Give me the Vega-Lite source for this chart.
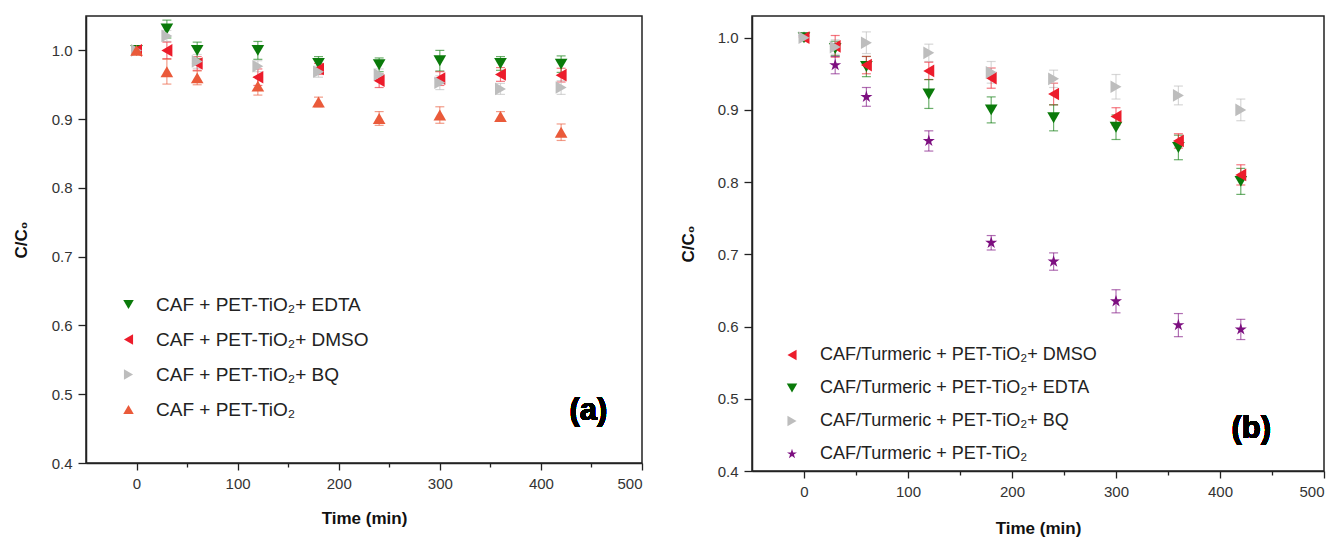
{
  "$schema": "https://vega.github.io/schema/vega-lite/v6.json",
  "background": "white",
  "padding": {"left": 11, "top": 15, "right": 5, "bottom": 5},
  "spacing": 34,
  "datasets": {
    "a": [
      {"series": "CAF + PET-TiO₂+ EDTA", "t": 0, "c": 1.0, "err": 0.004},
      {"series": "CAF + PET-TiO₂+ EDTA", "t": 30, "c": 1.031, "err": 0.013},
      {"series": "CAF + PET-TiO₂+ EDTA", "t": 60, "c": 1.0, "err": 0.012},
      {"series": "CAF + PET-TiO₂+ EDTA", "t": 120, "c": 1.0, "err": 0.013},
      {"series": "CAF + PET-TiO₂+ EDTA", "t": 180, "c": 0.981, "err": 0.01},
      {"series": "CAF + PET-TiO₂+ EDTA", "t": 240, "c": 0.979, "err": 0.01},
      {"series": "CAF + PET-TiO₂+ EDTA", "t": 300, "c": 0.985, "err": 0.015},
      {"series": "CAF + PET-TiO₂+ EDTA", "t": 360, "c": 0.981, "err": 0.01},
      {"series": "CAF + PET-TiO₂+ EDTA", "t": 420, "c": 0.98, "err": 0.012},
      {"series": "CAF + PET-TiO₂+ DMSO", "t": 0, "c": 1.0, "err": 0.004},
      {"series": "CAF + PET-TiO₂+ DMSO", "t": 30, "c": 1.0, "err": 0.012},
      {"series": "CAF + PET-TiO₂+ DMSO", "t": 60, "c": 0.981, "err": 0.01},
      {"series": "CAF + PET-TiO₂+ DMSO", "t": 120, "c": 0.961, "err": 0.012},
      {"series": "CAF + PET-TiO₂+ DMSO", "t": 180, "c": 0.973, "err": 0.008},
      {"series": "CAF + PET-TiO₂+ DMSO", "t": 240, "c": 0.956, "err": 0.01},
      {"series": "CAF + PET-TiO₂+ DMSO", "t": 300, "c": 0.959, "err": 0.01},
      {"series": "CAF + PET-TiO₂+ DMSO", "t": 360, "c": 0.965, "err": 0.01},
      {"series": "CAF + PET-TiO₂+ DMSO", "t": 420, "c": 0.964, "err": 0.01},
      {"series": "CAF + PET-TiO₂+ BQ", "t": 0, "c": 1.0, "err": 0.004},
      {"series": "CAF + PET-TiO₂+ BQ", "t": 30, "c": 1.021, "err": 0.008},
      {"series": "CAF + PET-TiO₂+ BQ", "t": 60, "c": 0.984, "err": 0.01},
      {"series": "CAF + PET-TiO₂+ BQ", "t": 120, "c": 0.977, "err": 0.008},
      {"series": "CAF + PET-TiO₂+ BQ", "t": 180, "c": 0.969, "err": 0.008},
      {"series": "CAF + PET-TiO₂+ BQ", "t": 240, "c": 0.965, "err": 0.008},
      {"series": "CAF + PET-TiO₂+ BQ", "t": 300, "c": 0.953, "err": 0.01},
      {"series": "CAF + PET-TiO₂+ BQ", "t": 360, "c": 0.944, "err": 0.008},
      {"series": "CAF + PET-TiO₂+ BQ", "t": 420, "c": 0.946, "err": 0.01},
      {"series": "CAF + PET-TiO₂", "t": 0, "c": 1.0, "err": 0.004},
      {"series": "CAF + PET-TiO₂", "t": 30, "c": 0.969, "err": 0.018},
      {"series": "CAF + PET-TiO₂", "t": 60, "c": 0.96, "err": 0.01},
      {"series": "CAF + PET-TiO₂", "t": 120, "c": 0.948, "err": 0.013},
      {"series": "CAF + PET-TiO₂", "t": 180, "c": 0.925, "err": 0.007},
      {"series": "CAF + PET-TiO₂", "t": 240, "c": 0.901, "err": 0.01},
      {"series": "CAF + PET-TiO₂", "t": 300, "c": 0.906, "err": 0.012},
      {"series": "CAF + PET-TiO₂", "t": 360, "c": 0.904, "err": 0.007},
      {"series": "CAF + PET-TiO₂", "t": 420, "c": 0.881, "err": 0.012}
    ],
    "b": [
      {"series": "CAF/Turmeric + PET-TiO₂", "t": 0, "c": 1.0, "err": 0.004},
      {"series": "CAF/Turmeric + PET-TiO₂", "t": 30, "c": 0.962, "err": 0.012},
      {"series": "CAF/Turmeric + PET-TiO₂", "t": 60, "c": 0.918, "err": 0.013},
      {"series": "CAF/Turmeric + PET-TiO₂", "t": 120, "c": 0.857, "err": 0.014},
      {"series": "CAF/Turmeric + PET-TiO₂", "t": 180, "c": 0.716, "err": 0.01},
      {"series": "CAF/Turmeric + PET-TiO₂", "t": 240, "c": 0.69, "err": 0.012},
      {"series": "CAF/Turmeric + PET-TiO₂", "t": 300, "c": 0.635, "err": 0.016},
      {"series": "CAF/Turmeric + PET-TiO₂", "t": 360, "c": 0.602, "err": 0.016},
      {"series": "CAF/Turmeric + PET-TiO₂", "t": 420, "c": 0.596, "err": 0.014},
      {"series": "CAF/Turmeric + PET-TiO₂+ EDTA", "t": 0, "c": 1.0, "err": 0.004},
      {"series": "CAF/Turmeric + PET-TiO₂+ EDTA", "t": 30, "c": 0.985, "err": 0.01},
      {"series": "CAF/Turmeric + PET-TiO₂+ EDTA", "t": 60, "c": 0.96, "err": 0.014},
      {"series": "CAF/Turmeric + PET-TiO₂+ EDTA", "t": 120, "c": 0.922, "err": 0.02},
      {"series": "CAF/Turmeric + PET-TiO₂+ EDTA", "t": 180, "c": 0.9, "err": 0.018},
      {"series": "CAF/Turmeric + PET-TiO₂+ EDTA", "t": 240, "c": 0.889, "err": 0.018},
      {"series": "CAF/Turmeric + PET-TiO₂+ EDTA", "t": 300, "c": 0.876, "err": 0.017},
      {"series": "CAF/Turmeric + PET-TiO₂+ EDTA", "t": 360, "c": 0.848, "err": 0.017},
      {"series": "CAF/Turmeric + PET-TiO₂+ EDTA", "t": 420, "c": 0.801, "err": 0.018},
      {"series": "CAF/Turmeric + PET-TiO₂+ DMSO", "t": 0, "c": 1.0, "err": 0.004},
      {"series": "CAF/Turmeric + PET-TiO₂+ DMSO", "t": 30, "c": 0.988, "err": 0.015},
      {"series": "CAF/Turmeric + PET-TiO₂+ DMSO", "t": 60, "c": 0.962, "err": 0.012},
      {"series": "CAF/Turmeric + PET-TiO₂+ DMSO", "t": 120, "c": 0.954, "err": 0.012},
      {"series": "CAF/Turmeric + PET-TiO₂+ DMSO", "t": 180, "c": 0.944, "err": 0.014},
      {"series": "CAF/Turmeric + PET-TiO₂+ DMSO", "t": 240, "c": 0.922, "err": 0.015},
      {"series": "CAF/Turmeric + PET-TiO₂+ DMSO", "t": 300, "c": 0.891, "err": 0.012},
      {"series": "CAF/Turmeric + PET-TiO₂+ DMSO", "t": 360, "c": 0.857, "err": 0.01},
      {"series": "CAF/Turmeric + PET-TiO₂+ DMSO", "t": 420, "c": 0.81, "err": 0.014},
      {"series": "CAF/Turmeric + PET-TiO₂+ BQ", "t": 0, "c": 1.0, "err": 0.004},
      {"series": "CAF/Turmeric + PET-TiO₂+ BQ", "t": 30, "c": 0.987, "err": 0.01},
      {"series": "CAF/Turmeric + PET-TiO₂+ BQ", "t": 60, "c": 0.993, "err": 0.015},
      {"series": "CAF/Turmeric + PET-TiO₂+ BQ", "t": 120, "c": 0.979, "err": 0.012},
      {"series": "CAF/Turmeric + PET-TiO₂+ BQ", "t": 180, "c": 0.952, "err": 0.015},
      {"series": "CAF/Turmeric + PET-TiO₂+ BQ", "t": 240, "c": 0.943, "err": 0.012},
      {"series": "CAF/Turmeric + PET-TiO₂+ BQ", "t": 300, "c": 0.932, "err": 0.017},
      {"series": "CAF/Turmeric + PET-TiO₂+ BQ", "t": 360, "c": 0.92, "err": 0.013},
      {"series": "CAF/Turmeric + PET-TiO₂+ BQ", "t": 420, "c": 0.9, "err": 0.015}
    ]
  },
  "resolve": {
    "scale": {"color": "independent", "shape": "independent", "y": "independent"},
    "legend": {"color": "independent", "shape": "independent"}
  },
  "hconcat": [
    {
      "width": 556,
      "height": 447,
      "data": {"name": "a"},
      "layer": [
        {
          "mark": {"type": "errorbar", "ticks": {"size": 9}, "opacity": 0.6, "thickness": 1.2},
          "encoding": {
            "x": {"field": "t", "type": "quantitative", "title": "Time (min)"},
            "y": {"field": "c", "type": "quantitative", "title": "C/C₀"},
            "yError": {"field": "err"},
            "color": {"field": "series", "type": "nominal",
              "legend": {"title": null, "orient": "none", "legendX": 33, "legendY": 279, "labelFontSize": 19, "rowPadding": 15, "labelOffset": 18, "symbolOpacity": 1}}
          }
        },
        {
          "mark": {"type": "point", "filled": true, "opacity": 1, "size": 160},
          "encoding": {
            "x": {"field": "t", "type": "quantitative", "title": "Time (min)",
              "scale": {"domain": [-50, 500], "nice": false, "zero": false},
              "axis": {"values": [0, 50, 100, 150, 200, 250, 300, 350, 400, 450, 500],
                "labelExpr": "datum.value % 100 === 0 ? datum.label : ''",
                "tickSize": {"condition": {"test": "datum.value % 100 !== 0", "value": 4}, "value": 7},
                "labelPadding": 6, "titlePadding": 19}},
            "y": {"field": "c", "type": "quantitative", "title": "C/C₀",
              "scale": {"domain": [0.4, 1.05], "nice": false, "zero": false},
              "axis": {"values": [0.4, 0.45, 0.5, 0.55, 0.6, 0.65, 0.7, 0.75, 0.8, 0.85, 0.9, 0.95, 1.0],
                "labelExpr": "abs(round(datum.value*10) - datum.value*10) < 0.001 ? format(datum.value, '.1f') : ''",
                "tickSize": {"condition": {"test": "abs(round(datum.value*10) - datum.value*10) > 0.001", "value": 4}, "value": 8},
                "labelPadding": 6, "titlePadding": 21}},
            "color": {"field": "series", "type": "nominal",
              "scale": {"domain": ["CAF + PET-TiO₂+ EDTA", "CAF + PET-TiO₂+ DMSO", "CAF + PET-TiO₂+ BQ", "CAF + PET-TiO₂"],
                "range": ["#0a7a0a", "#ec1c2b", "#bdbdbd", "#ea5a3a"]},
              "legend": {"title": null, "orient": "none", "legendX": 33, "legendY": 279, "labelFontSize": 19, "rowPadding": 15, "labelOffset": 18, "symbolOpacity": 1}},
            "shape": {"field": "series", "type": "nominal",
              "scale": {"domain": ["CAF + PET-TiO₂+ EDTA", "CAF + PET-TiO₂+ DMSO", "CAF + PET-TiO₂+ BQ", "CAF + PET-TiO₂"],
                "range": ["triangle-down", "triangle-left", "triangle-right", "triangle-up"]},
              "legend": {"title": null, "orient": "none", "legendX": 33, "legendY": 279, "labelFontSize": 19, "rowPadding": 15, "labelOffset": 18, "symbolOpacity": 1}}
          }
        },
        {
          "mark": {"type": "text", "text": "(a)", "font": "Liberation Sans", "fontWeight": "bold", "fontSize": 31, "fill": "black", "stroke": null},
          "encoding": {"x": {"datum": 447}, "y": {"datum": 0.476}}
        }
      ]
    },
    {
      "width": 572,
      "height": 455,
      "data": {"name": "b"},
      "layer": [
        {
          "mark": {"type": "errorbar", "ticks": {"size": 9}, "opacity": 0.6, "thickness": 1.2},
          "encoding": {
            "x": {"field": "t", "type": "quantitative", "title": "Time (min)"},
            "y": {"field": "c", "type": "quantitative", "title": "C/C₀"},
            "yError": {"field": "err"},
            "color": {"field": "series", "type": "nominal",
              "legend": {"title": null, "orient": "none", "legendX": 31, "legendY": 330, "labelFontSize": 18, "rowPadding": 15, "labelOffset": 19, "symbolOpacity": 1}}
          }
        },
        {
          "mark": {"type": "point", "filled": true, "opacity": 1, "size": 160},
          "encoding": {
            "x": {"field": "t", "type": "quantitative", "title": "Time (min)",
              "scale": {"domain": [-50, 500], "nice": false, "zero": false},
              "axis": {"values": [0, 50, 100, 150, 200, 250, 300, 350, 400, 450, 500],
                "labelExpr": "datum.value % 100 === 0 ? datum.label : ''",
                "tickSize": {"condition": {"test": "datum.value % 100 !== 0", "value": 4}, "value": 7},
                "labelPadding": 6, "titlePadding": 21}},
            "y": {"field": "c", "type": "quantitative", "title": "C/C₀",
              "scale": {"domain": [0.4, 1.03], "nice": false, "zero": false},
              "axis": {"values": [0.4, 0.45, 0.5, 0.55, 0.6, 0.65, 0.7, 0.75, 0.8, 0.85, 0.9, 0.95, 1.0],
                "labelExpr": "abs(round(datum.value*10) - datum.value*10) < 0.001 ? format(datum.value, '.1f') : ''",
                "tickSize": {"condition": {"test": "abs(round(datum.value*10) - datum.value*10) > 0.001", "value": 4}, "value": 8},
                "labelPadding": 6, "titlePadding": 20}},
            "color": {"field": "series", "type": "nominal",
              "scale": {"domain": ["CAF/Turmeric + PET-TiO₂+ DMSO", "CAF/Turmeric + PET-TiO₂+ EDTA", "CAF/Turmeric + PET-TiO₂+ BQ", "CAF/Turmeric + PET-TiO₂"],
                "range": ["#ec1c2b", "#0a7a0a", "#bdbdbd", "#7d0f80"]},
              "legend": {"title": null, "orient": "none", "legendX": 31, "legendY": 330, "labelFontSize": 18, "rowPadding": 15, "labelOffset": 19, "symbolOpacity": 1}},
            "shape": {"field": "series", "type": "nominal",
              "scale": {"domain": ["CAF/Turmeric + PET-TiO₂+ DMSO", "CAF/Turmeric + PET-TiO₂+ EDTA", "CAF/Turmeric + PET-TiO₂+ BQ", "CAF/Turmeric + PET-TiO₂"],
                "range": ["triangle-left", "triangle-down", "triangle-right", "M0,-1L0.2245,-0.309L0.951,-0.309L0.3633,0.118L0.5878,0.809L0,0.382L-0.5878,0.809L-0.3633,0.118L-0.951,-0.309L-0.2245,-0.309Z"]},
              "legend": {"title": null, "orient": "none", "legendX": 31, "legendY": 330, "labelFontSize": 18, "rowPadding": 15, "labelOffset": 19, "symbolOpacity": 1}}
          }
        },
        {
          "mark": {"type": "text", "text": "(b)", "font": "Liberation Sans", "fontWeight": "bold", "fontSize": 31, "fill": "black", "stroke": null},
          "encoding": {"x": {"datum": 430}, "y": {"datum": 0.458}}
        }
      ]
    }
  ],
  "config": {
    "font": "Liberation Sans",
    "view": {"stroke": "#222", "strokeWidth": 1.5},
    "axis": {
      "grid": false,
      "domainColor": "#222",
      "domainWidth": 1.5,
      "tickColor": "#222",
      "tickWidth": 1.3,
      "labelFont": "Liberation Sans",
      "labelFontSize": 15,
      "labelColor": "#333",
      "titleFont": "Liberation Sans",
      "titleFontWeight": "bold",
      "titleFontSize": 17,
      "titleColor": "#111"
    },
    "legend": {
      "labelFont": "Liberation Sans",
      "labelFontSize": 18,
      "labelColor": "#222",
      "labelLimit": 500,
      "symbolSize": 110,
      "symbolStrokeWidth": 0,
      "symbolOpacity": 1,
      "labelOffset": 22,
      "rowPadding": 15,
      "padding": 0
    }
  }
}
